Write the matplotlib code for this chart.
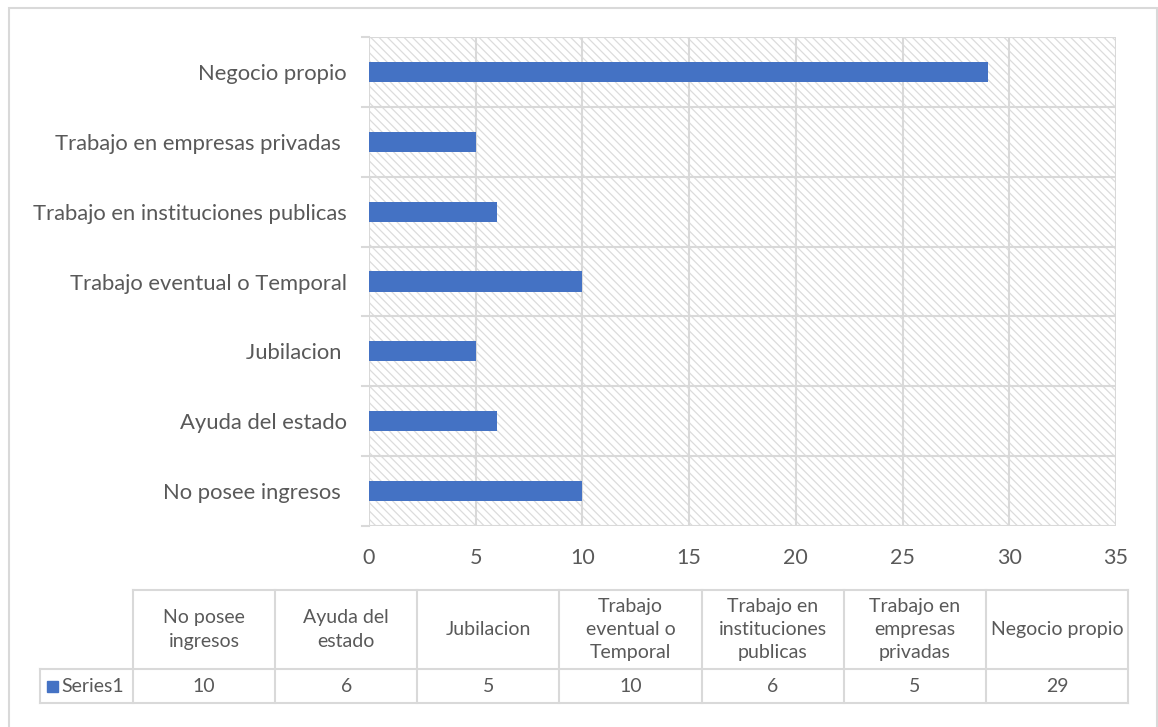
import textwrap
import matplotlib
matplotlib.use("Agg")
import matplotlib.pyplot as plt
from matplotlib.patches import Rectangle
from matplotlib.lines import Line2D

# -------------------------
# Data
# -------------------------
categories = ["No posee ingresos ", "Ayuda del estado", "Jubilacion ",
              "Trabajo eventual o Temporal", "Trabajo en instituciones publicas",
              "Trabajo en empresas privadas ", "Negocio propio"]
values = [10, 6, 5, 10, 6, 5, 29]
series_name = "Series1"
x_ticks = [0, 5, 10, 15, 20, 25, 30, 35]

# -------------------------
# Style
# -------------------------
plt.rcParams["font.family"] = ["Lato", "DejaVu Sans"]
plt.rcParams["hatch.linewidth"] = 0.9
TXT = "#595959"
GRID = "#d9d9d9"
BAR = "#4472c4"
W, H = 1158, 727

fig = plt.figure(figsize=(W / 100, H / 100), dpi=100)

def fx(px):
    return px / W

def fy(py):
    return 1 - py / H

# outer chart border
fig.add_artist(Rectangle((fx(9), fy(740)), fx(1157) - fx(9), fy(8) - fy(740),
                         transform=fig.transFigure, fill=False, ec=GRID, lw=1.5))

left, right, top, bottom = 369, 1116, 37, 526
ax = fig.add_axes([fx(left), fy(bottom), fx(right) - fx(left), fy(top) - fy(bottom)])

# hatched plot background
ax.add_patch(Rectangle((0, 0), 1, 1, transform=ax.transAxes, facecolor="white",
                       edgecolor="#dcdcdc", hatch="\\" * 4, lw=0, zorder=0))

y = range(len(categories))
ax.barh(y, values, height=0.29, color=BAR, zorder=3)

ax.set_xlim(0, 35)
ax.set_ylim(-0.5, len(categories) - 0.5)
ax.set_xticks(x_ticks)
ax.set_xticklabels([str(t) for t in x_ticks])
ax.set_yticks(y)
ax.set_yticklabels(categories)
ax.tick_params(axis="x", length=0, pad=16, labelsize=15.5, colors=TXT)
ax.tick_params(axis="y", length=0, pad=16, labelsize=15.8, colors=TXT)

# gridlines: verticals at x ticks, horizontals at category boundaries
for t in x_ticks:
    ax.axvline(t, color=GRID, lw=1.5, zorder=1)
for b in range(len(categories) + 1):
    ax.axhline(b - 0.5, color=GRID, lw=1.5, zorder=1)
    ax.plot([-0.35, 0], [b - 0.5, b - 0.5], color=GRID, lw=1.5, clip_on=False, zorder=1)
for s in ax.spines.values():
    s.set_visible(False)

# -------------------------
# Data table
# -------------------------
tl, tr = 133, 1128
lab_left = 40
row_top, row_mid, row_bot = 590, 669, 703
cw = (tr - tl) / len(categories)

def hline(x0, x1, yy):
    fig.add_artist(Line2D([fx(x0), fx(x1)], [fy(yy), fy(yy)], color=GRID, lw=1.5))

def vline(xx, y0, y1):
    fig.add_artist(Line2D([fx(xx), fx(xx)], [fy(y0), fy(y1)], color=GRID, lw=1.5))

hline(tl, tr, row_top)
hline(lab_left, tr, row_mid)
hline(lab_left, tr, row_bot)
vline(lab_left, row_mid, row_bot)
for i in range(len(categories) + 1):
    vline(tl + i * cw, row_top, row_bot)

for i, (c, v) in enumerate(zip(categories, values)):
    cx = fx(tl + (i + 0.5) * cw)
    fig.text(cx, fy((row_top + row_mid) / 2), textwrap.fill(c.strip(), 14),
             ha="center", va="center", fontsize=14, color=TXT, linespacing=1.45)
    fig.text(cx, fy((row_mid + row_bot) / 2), str(v),
             ha="center", va="center", fontsize=14, color=TXT)

fig.add_artist(Rectangle((fx(47), fy(692)), fx(58) - fx(47), fy(681) - fy(692),
                         transform=fig.transFigure, color=BAR))
fig.text(fx(61), fy((row_mid + row_bot) / 2), series_name, ha="left", va="center",
         fontsize=14, color=TXT)

fig.savefig("out.png", dpi=100)
